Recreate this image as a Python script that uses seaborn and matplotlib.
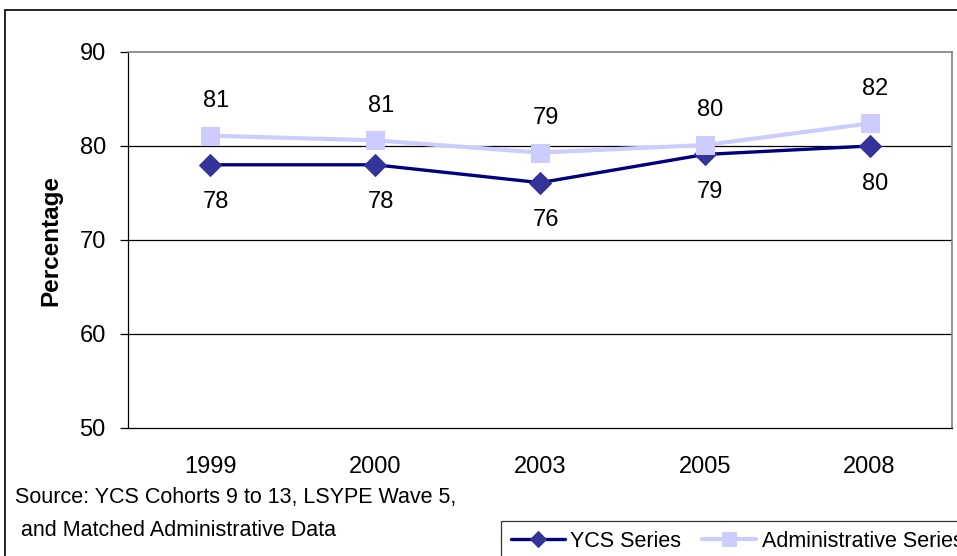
import matplotlib
matplotlib.use("Agg")
import matplotlib.pyplot as plt
import seaborn as sns
import pandas as pd
from matplotlib.patches import Rectangle

years = ["1999", "2000", "2003", "2005", "2008"]
ycs_values = [78.0, 78.0, 76.1, 79.1, 80.0]
admin_values = [81.1, 80.6, 79.3, 80.1, 82.4]
ycs_labels = ["78", "78", "76", "79", "80"]
admin_labels = ["81", "81", "79", "80", "82"]
y_ticks = [50, 60, 70, 80, 90]

sns.set_style("white")
plt.rcParams['font.family'] = ['Liberation Sans', 'DejaVu Sans']
plt.rcParams['text.color'] = 'black'
plt.rcParams['xtick.color'] = 'black'
plt.rcParams['ytick.color'] = 'black'
plt.rcParams['axes.labelcolor'] = 'black'

df = pd.DataFrame({
    "pos": list(range(len(years))) * 2,
    "value": ycs_values + admin_values,
    "series": ["YCS Series"] * len(years) + ["Administrative Series"] * len(years),
})

fig = plt.figure(figsize=(9.57, 5.56), dpi=100)
ax = fig.add_axes([128 / 957, 1 - 428 / 556, (952 - 128) / 957, (428 - 52) / 556])

sns.lineplot(data=df[df.series == "YCS Series"], x="pos", y="value", ax=ax,
             color="#000080", lw=2.4, marker="D", markersize=11,
             markerfacecolor="#333399", markeredgecolor="#333399", label="YCS Series")
sns.lineplot(data=df[df.series == "Administrative Series"], x="pos", y="value", ax=ax,
             color="#CCCCFF", lw=3, marker="s", markersize=13,
             markerfacecolor="#CCCCFF", markeredgecolor="#CCCCFF", label="Administrative Series")

# data labels
for i, (v, t) in enumerate(zip(ycs_values, ycs_labels)):
    ax.annotate(t, (i, v), xytext=(4, -27), textcoords="offset points",
                ha="center", va="center", fontsize=17)
for i, (v, t) in enumerate(zip(admin_values, admin_labels)):
    ax.annotate(t, (i, v), xytext=(4, 25), textcoords="offset points",
                ha="center", va="center", fontsize=17)

ax.set_xlim(-0.5, len(years) - 0.5)
ax.set_ylim(50, 90)
ax.set_yticks(y_ticks)
ax.set_yticklabels([str(t) for t in y_ticks], fontsize=17)
for t in y_ticks[1:-1]:
    ax.axhline(t, color="black", lw=0.9, zorder=0)

ax.set_xticks(range(len(years)))
ax.set_xticklabels(years, fontsize=17)
ax.set_xticks([i - 0.5 for i in range(len(years) + 1)], minor=True)
ax.tick_params(axis="x", which="major", length=0, pad=20)
ax.tick_params(axis="x", which="minor", length=6, width=0.9, color="black", direction="out")
ax.tick_params(axis="y", length=6, width=0.9, color="black", direction="out", left=True, pad=10)

ax.set_xlabel("")
ax.set_ylabel("Percentage", fontsize=17.5, fontweight="bold", labelpad=12)

for side in ["left", "bottom"]:
    ax.spines[side].set_color("black")
    ax.spines[side].set_linewidth(0.9)
for side in ["top", "right"]:
    ax.spines[side].set_visible(True)
    ax.spines[side].set_color("#808080")
    ax.spines[side].set_linewidth(1.2)

leg = ax.legend(loc="upper left", bbox_to_anchor=(501 / 957, 1 - 521 / 556),
                bbox_transform=fig.transFigure, ncol=2, fontsize=15.5, frameon=True,
                fancybox=False, edgecolor="black", handlelength=2.5, columnspacing=1.0,
                borderpad=0.45, handletextpad=0.25, borderaxespad=0, markerscale=0.75)
leg.get_frame().set_linewidth(0.9)

fig.text(15 / 957, 1 - 497 / 556, "Source: YCS Cohorts 9 to 13, LSYPE Wave 5,",
         fontsize=15.5, va="center", ha="left")
fig.text(15 / 957, 1 - 531 / 556, " and Matched Administrative Data",
         fontsize=15.5, va="center", ha="left")

# outer chart border (clipped at right and bottom)
fig.patches.append(Rectangle((5 / 957, -0.1), 1.2, 1 - 10 / 556 + 0.1,
                             transform=fig.transFigure, fill=False,
                             edgecolor="black", lw=1.2))

fig.savefig("out.png", dpi=100)
